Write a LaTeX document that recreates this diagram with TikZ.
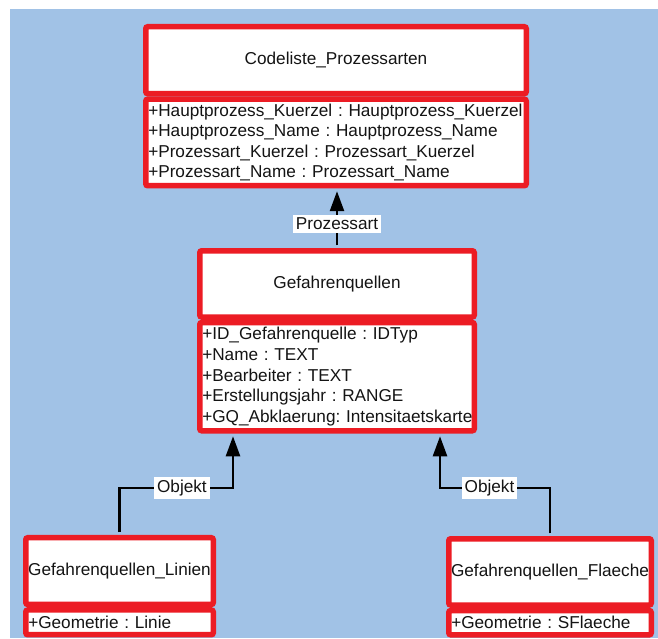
\documentclass[tikz,border=0pt]{standalone}
\usepackage{fontspec}
\setmainfont{Liberation Sans}
\frenchspacing
\usetikzlibrary{arrows.meta}
\definecolor{umlred}{RGB}{236,28,36}
\definecolor{canvasblue}{RGB}{161,194,230}
\definecolor{ink}{RGB}{20,20,20}

\begin{document}
\begin{tikzpicture}[x=1pt,y=-1pt,
  every node/.style={font={\fontsize{17.2}{20.6}\selectfont\frenchspacing}, text=ink},
  classbox/.style={rectangle, draw=umlred, line width=5.5pt, fill=white,
    rounded corners=2pt, inner sep=0pt},
  classhead/.style={classbox, align=center},
  classattrs/.style={classbox, align=left, inner xsep=2.5pt, anchor=north},
  assoc/.style={draw=black, line width=2.5pt, line join=miter,
    -{Triangle[length=20pt,width=14pt]}, shorten >=2.75pt, shorten <=2.75pt},
  rolelabel/.style={fill=white, inner xsep=3pt, inner ysep=3pt}
]
% canvas
\useasboundingbox (0,0) rectangle (658,638);
\fill[white] (0,0) rectangle (658,638);
\fill[canvasblue] (10,9) rectangle (658,638);

% Codeliste_Prozessarten
\node[classhead, minimum width=380.5pt, minimum height=66.95pt] (codehead) at (336,60.2)
  {Codeliste\_Prozessarten};
\node[classattrs, minimum width=380.5pt, minimum height=86.55pt, text width=375.5pt]
  (codeattr) at (codehead.south)
  {\mbox{+Hauptprozess\_Kuerzel : Hauptprozess\_Kuerzel}\\
   \mbox{+Hauptprozess\_Name : Hauptprozess\_Name}\\
   \mbox{+Prozessart\_Kuerzel : Prozessart\_Kuerzel}\\
   \mbox{+Prozessart\_Name : Prozessart\_Name}};

% Gefahrenquellen
\node[classhead, minimum width=274.5pt, minimum height=66.25pt] (gefhead) at (337,283.9)
  {Gefahrenquellen};
\node[classattrs, minimum width=274.5pt, minimum height=108.25pt, text width=269.5pt]
  (gefattr) at (gefhead.south)
  {\mbox{+ID\_Gefahrenquelle : IDTyp}\\
   \mbox{+Name : TEXT}\\
   \mbox{+Bearbeiter : TEXT}\\
   \mbox{+Erstellungsjahr : RANGE}\\
   \mbox{+GQ\_Abklaerung: Intensitaetskarte}};

% Gefahrenquellen_Linien
\node[classhead, minimum width=187.5pt, minimum height=66.75pt] (linhead) at (119.5,571.1)
  {Gefahrenquellen\_Linien};
\node[classattrs, minimum width=187.5pt, minimum height=24.75pt, text width=182.5pt]
  (linattr) at (linhead.south)
  {\mbox{+Geometrie : Linie}};

% Gefahrenquellen_Flaeche
\node[classhead, minimum width=202.5pt, minimum height=66.25pt] (flahead) at (550,571.9)
  {Gefahrenquellen\_Flaeche};
\node[classattrs, minimum width=202.5pt, minimum height=24.25pt, text width=197.5pt]
  (flaattr) at (flahead.south)
  {\mbox{+Geometrie : SFlaeche}};

% association routing points
\coordinate (tipL) at ([xshift=-104pt]gefattr.south);
\coordinate (tipR) at ([xshift=103pt]gefattr.south);
\coordinate (busL) at (119.5,488);
\coordinate (busR) at (550,488);

% associations
\draw[assoc] (gefhead.north) -- node[rolelabel, pos=0.41] (lblP) {Prozessart}
  (gefhead.north |- codeattr.south);
\draw[assoc] (linhead.north) -- (linhead.north |- busL)
  -- node[rolelabel, pos=0.55] (lblL) {Objekt} (busL -| tipL) -- (tipL);
\draw[assoc] (flahead.north) -- (flahead.north |- busR)
  -- node[rolelabel, pos=0.55] (lblR) {Objekt} (busR -| tipR) -- (tipR);
\end{tikzpicture}
\end{document}
